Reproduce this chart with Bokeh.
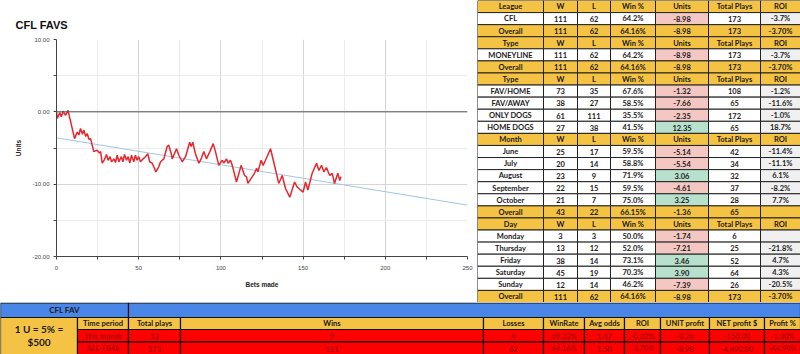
from bokeh.plotting import figure
from bokeh.layouts import column, row
from bokeh.models import Range1d, FixedTicker, PrintfTickFormatter, Span, ColumnDataSource
from bokeh.core.properties import value
from bokeh.embed import file_html
from bokeh.resources import INLINE

# ---------------- chart data ----------------
bets = [0, 0.5, 2, 3, 4, 5.5, 7, 11, 12.6, 13.6, 14.6, 15.8, 16.6, 17.8, 18.7, 19.7, 20.7, 21.7, 22.7, 24.8,
        26, 26.8, 27.8, 29.2, 30.4, 31.4, 32.6, 33.5, 34.9, 35.9, 36.9, 38, 39.4, 40.4, 41.4, 42.6, 43.6, 44.6,
        45.6, 47, 48, 49, 50, 51.1, 52.7, 54.1, 55.5, 56.7, 58.2, 59.6, 60.4, 62.2, 63.3, 65.3, 67.3, 68.3, 69.8,
        70.4, 73, 74.4, 76.5, 78.5, 81, 81.9, 82.9, 84.5, 86.6, 88, 89.6, 91.2, 93.3, 95.3, 96.7, 98.7, 100.8,
        101.8, 103.4, 104.4, 105.8, 106.9, 109.5, 112.3, 114.4, 115.6, 116.4, 119, 120.4, 121.7, 122.5, 124.5,
        125.7, 127.1, 130.2, 135.2, 137.3, 139.3, 141.9, 144.8, 146.4, 148.4, 150, 151.5, 152.9, 155.5, 158.2,
        159.6, 161.2, 162.6, 164.2, 166.2, 167.7, 169.1, 171.1, 172.3, 173]
units_cum = [0, -0.9, -0.1, -0.7, 0.1, -0.5, 0.2, -3.7, -2.8, -3.2, -2.3, -3.1, -2.5, -3.4, -3.0, -3.8, -3.7, -4.6,
             -5.5, -5.3, -5.7, -5.5, -7.1, -6.6, -5.9, -6.7, -6.2, -6.9, -6.5, -7.0, -6.0, -6.9, -6.2, -6.9, -5.9,
             -6.7, -6.2, -7.1, -6.0, -6.9, -6.0, -6.7, -6.2, -6.9, -6.5, -6.2, -5.8, -6.9, -7.1, -7.8, -8.3, -7.6,
             -6.9, -6.5, -4.8, -4.6, -5.8, -6.5, -5.1, -6.0, -6.9, -6.2, -4.2, -4.8, -4.2, -5.8, -7.1, -6.5, -5.5,
             -6.5, -5.5, -4.4, -5.5, -7.4, -6.7, -7.1, -6.5, -7.1, -6.7, -7.4, -9.7, -7.4, -8.8, -9.0, -9.9, -9.0,
             -8.5, -7.8, -8.3, -6.7, -7.4, -6.7, -5.1, -9.9, -8.8, -10.6, -11.8, -9.7, -10.4, -10.8, -11.1, -9.7,
             -10.8, -8.5, -7.1, -8.1, -7.4, -8.3, -7.7, -8.8, -8.5, -9.9, -8.5, -9.5, -8.98]
trend_x = [0, 250]
trend_y = [-3.6, -12.9]

# ---------------- right table data ----------------
tbl_label = ["League", "CFL", "Overall", "Type", "MONEYLINE", "Overall", "Type", "FAV/HOME", "FAV/AWAY",
             "ONLY DOGS", "HOME DOGS", "Month", "June", "July", "August", "September", "October", "Overall",
             "Day", "Monday", "Thursday", "Friday", "Saturday", "Sunday", "Overall"]
tbl_w = ["W", "111", "111", "W", "111", "111", "W", "73", "38", "61", "27", "W", "25", "20", "23", "22", "21",
         "43", "W", "3", "13", "38", "45", "12", "111"]
tbl_l = ["L", "62", "62", "L", "62", "62", "L", "35", "27", "111", "38", "L", "17", "14", "9", "15", "7", "22",
         "L", "3", "12", "14", "19", "14", "62"]
tbl_pct = ["Win %", "64.2%", "64.16%", "Win %", "64.2%", "64.16%", "Win %", "67.6%", "58.5%", "35.5%", "41.5%",
           "Win %", "59.5%", "58.8%", "71.9%", "59.5%", "75.0%", "66.15%", "Win %", "50.0%", "52.0%", "73.1%",
           "70.3%", "46.2%", "64.16%"]
tbl_units = ["Units", "-8.98", "-8.98", "Units", "-8.98", "-8.98", "Units", "-1.32", "-7.66", "-2.35", "12.35",
             "Units", "-5.14", "-5.54", "3.06", "-4.61", "3.25", "-1.36", "Units", "-1.74", "-7.21", "3.46",
             "3.90", "-7.39", "-8.98"]
tbl_plays = ["Total Plays", "173", "173", "Total Plays", "173", "173", "Total Plays", "108", "65", "172", "65",
             "Total Plays", "42", "34", "32", "37", "28", "65", "Total Plays", "6", "25", "52", "64", "26", "173"]
tbl_roi = ["ROI", "-3.7%", "-3.70%", "ROI", "-3.7%", "-3.70%", "ROI", "-1.2%", "-11.6%", "-1.0%", "18.7%",
           "ROI", "-11.4%", "-11.1%", "6.1%", "-8.2%", "7.7%", "", "ROI", "", "-21.8%", "4.7%", "4.3%",
           "-20.5%", "-3.70%"]
tbl_kind = ["head", "data", "total", "head", "data", "total", "head", "data", "data", "data", "data",
            "head", "data", "data", "data", "data", "data", "total", "head", "data", "data", "data", "data",
            "data", "total"]

# ---------------- bottom table data ----------------
bot_title = "CFL FAV"
bot_unit = ["1 U = 5% =", "$500"]
bot_header = ["Time period", "Total plays", "Wins", "Losses", "WinRate", "Avg odds", "ROI", "UNIT profit",
              "NET profit $", "Profit %"]
bot_month = ["This month", "13", "9", "4", "69.23%", "1.47", "-0.32%", "-0.26", "-150.00", "-1.30%"]
bot_all = ["ALL-TIME", "173", "111", "62", "64.16%", "1.50", "-3.70%", "-8.98", "-4,490.00", "-44.90%"]

# ---------------- styles ----------------
GOLD = "#f5c343"
PINK = "#f4c7c3"
GREEN = "#b7e1cd"
LGRAY = "#f0f0f0"
BLUE = "#4a86e8"
RED = "#ff0000"
TFONT = value("Lato")
CFONT = "Liberation Sans"

# ---------------- chart ----------------
p = figure(width=477, height=302, x_range=Range1d(0, 250), y_range=Range1d(-20, 10),
           output_backend="svg", toolbar_location=None,
           min_border_left=56, min_border_right=10, min_border_top=39, min_border_bottom=46)
p.title.text = "CFL FAVS"
p.title.text_font = CFONT
p.title.text_font_size = "11px"
p.title.text_font_style = "bold"
p.title.text_color = "#111111"
p.title.offset = -41
p.title.standoff = 18
p.outline_line_color = None
p.background_fill_color = "white"

p.xaxis.ticker = FixedTicker(ticks=[0, 50, 100, 150, 200, 250], minor_ticks=[25, 75, 125, 175, 225])
p.yaxis.ticker = FixedTicker(ticks=[-20, -10, 0, 10], minor_ticks=[-15, -5, 5])
p.yaxis.formatter = PrintfTickFormatter(format="%.2f")
for ax in (p.xaxis[0], p.yaxis[0]):
    ax.axis_line_color = "#444444"
    ax.major_tick_line_color = "#444444"
    ax.minor_tick_line_color = "#444444"
    ax.major_tick_out = 3
    ax.major_tick_in = 0
    ax.minor_tick_out = 3
    ax.minor_tick_in = 0
    ax.major_label_text_font = CFONT
    ax.major_label_text_font_size = "6px"
    ax.major_label_text_color = "#444444"
    ax.axis_label_text_font = CFONT
    ax.axis_label_text_font_size = "6.5px"
    ax.axis_label_text_font_style = "bold"
    ax.axis_label_text_color = "#222222"
p.xaxis.axis_label = "Bets made"
p.yaxis.axis_label = "Units"
p.xaxis.major_label_standoff = 6
p.xaxis.axis_label_standoff = 8
p.yaxis.major_label_standoff = 4
p.yaxis.axis_label_standoff = 7

p.xgrid.ticker = FixedTicker(ticks=[0, 50, 100, 150, 200, 250], minor_ticks=[25, 75, 125, 175, 225])
p.ygrid.ticker = FixedTicker(ticks=[-20, -10, 0, 10], minor_ticks=[-15, -5, 5])
p.grid.grid_line_color = "#d6d6d6"
p.grid.minor_grid_line_color = "#ececec"

p.add_layout(Span(location=0, dimension="width", line_color="#555555", line_width=1))
p.line(trend_x, trend_y, line_color="#9fc5e8", line_width=1)
p.line(bets, units_cum, line_color="#e8262b", line_width=1.5)

# ---------------- right table ----------------
col_edges = [477, 543, 577, 610, 655, 708, 760, 800]
rh = 302 / len(tbl_label)
t = figure(width=323, height=302, x_range=Range1d(477, 800), y_range=Range1d(302, 0),
           output_backend="svg", toolbar_location=None, min_border=0,
           x_axis_location=None, y_axis_location=None)
t.grid.visible = False
t.outline_line_color = None

q = dict(left=[], right=[], top=[], bottom=[], color=[])
tx = dict(x=[], y=[], text=[])
cols = [tbl_label, tbl_w, tbl_l, tbl_pct, tbl_units, tbl_plays, tbl_roi]
for i, kind in enumerate(tbl_kind):
    for j, colvals in enumerate(cols):
        txt = colvals[i]
        if kind in ("head", "total"):
            c = GOLD
        elif j == 4:
            c = PINK if txt.startswith("-") else GREEN
        elif j == 6:
            c = LGRAY
        else:
            c = "white"
        q["left"].append(col_edges[j]); q["right"].append(col_edges[j + 1])
        q["top"].append(i * rh); q["bottom"].append((i + 1) * rh); q["color"].append(c)
        tx["x"].append((col_edges[j] + col_edges[j + 1]) / 2)
        tx["y"].append((i + 0.5) * rh + 0.3)
        tx["text"].append(txt)
t.quad(left="left", right="right", top="top", bottom="bottom", fill_color="color",
       line_color="#222222", line_width=1, source=ColumnDataSource(q))
t.text(x="x", y="y", text="text", source=ColumnDataSource(tx), text_font=TFONT, text_font_style="bold",
       text_font_size="7.5px", text_align="center", text_baseline="middle", text_color="#1a1a1a")

# ---------------- bottom table ----------------
b = figure(width=800, height=52, x_range=Range1d(0, 800), y_range=Range1d(354, 302),
           output_backend="svg", toolbar_location=None, min_border=0,
           x_axis_location=None, y_axis_location=None)
b.grid.visible = False
b.outline_line_color = None
b_edges = [77, 128, 180, 483, 543, 584, 624, 660, 709, 764, 800]
row_tops = [317, 329, 341.5, 356]

bq = dict(left=[0, 128, 0], right=[128, 800, 77], top=[302.5, 302.5, 317], bottom=[317, 317, 356],
          color=[BLUE, BLUE, GOLD])
btx = dict(x=[], y=[], text=[], color=[])
for r, (vals, fill, tcol) in enumerate([(bot_header, GOLD, "#1a1a1a"), (bot_month, RED, "#a80000"),
                                        (bot_all, RED, "#a80000")]):
    for j, txt in enumerate(vals):
        bq["left"].append(b_edges[j]); bq["right"].append(b_edges[j + 1])
        bq["top"].append(row_tops[r]); bq["bottom"].append(row_tops[r + 1]); bq["color"].append(fill)
        btx["x"].append((b_edges[j] + b_edges[j + 1]) / 2)
        btx["y"].append((row_tops[r] + min(row_tops[r + 1], 354)) / 2 + 0.3)
        btx["text"].append(txt); btx["color"].append(tcol)
b.quad(left="left", right="right", top="top", bottom="bottom", fill_color="color",
       line_color="#111111", line_width=1.2, source=ColumnDataSource(bq))
b.text(x="x", y="y", text="text", text_color="color", source=ColumnDataSource(btx), text_font=TFONT,
       text_font_style="bold", text_font_size="7.5px", text_align="center", text_baseline="middle")
b.text(x=[64], y=[309.8], text=[bot_title], text_font=TFONT, text_font_style="bold", text_font_size="8px",
       text_align="center", text_baseline="middle", text_color="#1a1a1a")
b.text(x=[38.5, 38.5], y=[328, 341], text=bot_unit, text_font=TFONT, text_font_style="bold",
       text_font_size="10px", text_align="center", text_baseline="middle", text_color="#1a1a1a")

layout = column(row(column(p), column(t), spacing=0), b, spacing=0)
open("out.html", "w").write(file_html(layout, INLINE))
